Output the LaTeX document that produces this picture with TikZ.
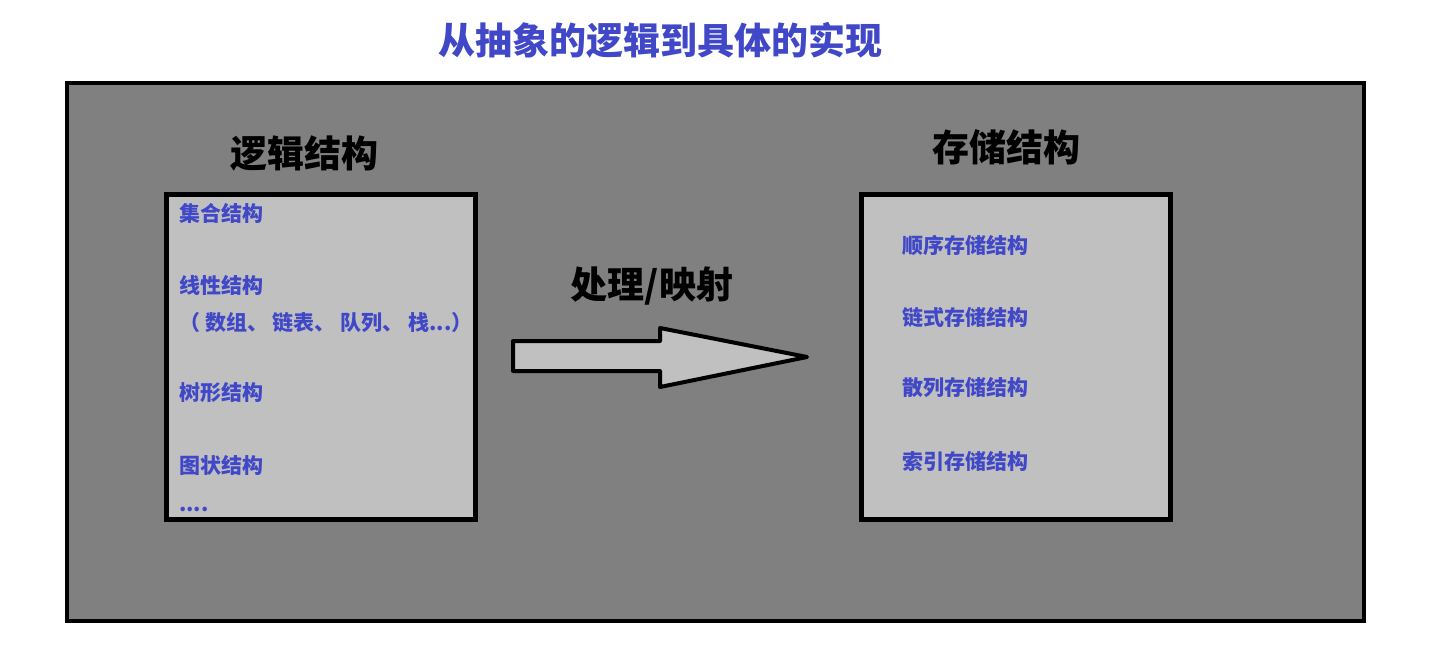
\documentclass[tikz,border=0pt]{standalone}
\usepackage{fontspec}
\setmainfont{Noto Sans CJK SC}
\usepackage{xcolor}
\definecolor{dsblue}{RGB}{64, 72, 200}
\definecolor{dsgray}{RGB}{128, 128, 128}
\definecolor{dsgray-light}{RGB}{192, 192, 192}
\usepackage{tikz}
\tikzset{
  % --- FRAMES ---
  frame-outer/.style={
    draw=black,
    line width=4pt,
    fill=dsgray
  },
  frame-box/.style={
    draw=black,
    line width=5pt,
    fill=dsgray-light,
    inner sep=0pt
  },
  % --- TEXTS ---
  title/.style={
    font=\fontsize{37}{40}\selectfont\bfseries,
    text=dsblue,
    inner sep=0pt
  },
  box-title/.style={
    font=\fontsize{37}{40}\selectfont\bfseries,
    text=black,
    inner sep=0pt
  },
  item/.style={
    font=\fontsize{21}{24}\selectfont\bfseries,
    text=dsblue,
    inner sep=0pt,
    anchor=west
  },
  % --- ARROW ---
  block-arrw/.style={
    draw=black,
    line width=4pt,
    fill=dsgray-light,
    line join=round
  },
}

\begin{document}
\begin{tikzpicture}[x=1pt, y=-1pt]
  \useasboundingbox (0,0) rectangle (1434,659);
  % --- title
  \node[title] (title) at (660, 40) {从抽象的逻辑到具体的实现};
  % --- background frame
  \draw[frame-outer] (67, 83) rectangle (1364, 621);
  % --- logical structure
  \node[box-title] (logic-title) at (304, 154) {逻辑结构};
  \node[frame-box, minimum width=309pt, minimum height=325pt] (logic) at (321, 357) {};
  \node[item] (set)    at (179, 213) {集合结构};
  \node[item] (linear) at (179, 285) {线性结构};
  \node[item] (linear-ex) at (179, 323) {（ 数组、 链表、 队列、 栈...）};
  \node[item] (tree)   at (179, 393) {树形结构};
  \node[item] (graph)  at (179, 465) {图状结构};
  \node[item, anchor=base west] (more) at (179, 511) {....};
  % --- mapping arrow
  \node[box-title] (map) at (652, 286) {处理/映射};
  \draw[block-arrw] (513, 341) -- (660, 341) -- (660, 328) -- (807, 357)
    -- (660, 387) -- (660, 371) -- (513, 371) -- cycle;
  % --- storage structure
  \node[box-title] (store-title) at (1006, 147) {存储结构};
  \node[frame-box, minimum width=309pt, minimum height=325pt] (store) at (1016, 357) {};
  \node[item] (seq)   at (902, 245) {顺序存储结构};
  \node[item] (chain) at (902, 317) {链式存储结构};
  \node[item] (hash)  at (902, 388) {散列存储结构};
  \node[item] (index) at (902, 461) {索引存储结构};
\end{tikzpicture}
\end{document}
